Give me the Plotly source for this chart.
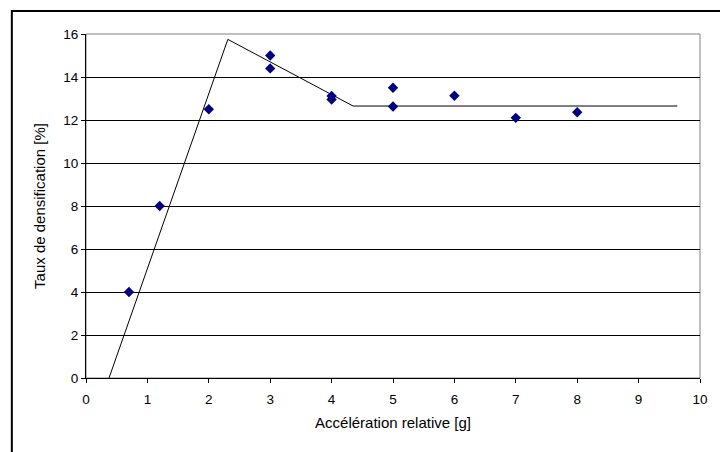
import plotly.graph_objects as go

# Measured points
acc_x = [0.7, 1.2, 2.0, 3.0, 3.0, 4.0, 4.0, 5.0, 5.0, 6.0, 7.0, 8.0]
taux_y = [4.0, 8.0, 12.5, 15.0, 14.4, 13.12, 12.95, 13.5, 12.63, 13.13, 12.1, 12.36]

# Fitted model line
model_x = [0.375, 2.31, 4.35, 9.63]
model_y = [0.0, 15.75, 12.65, 12.65]

x_ticks = list(range(0, 11))
y_ticks = list(range(0, 17, 2))

fig = go.Figure()
fig.add_trace(go.Scatter(x=model_x, y=model_y, mode="lines",
                         line=dict(color="black", width=1), hoverinfo="skip"))
fig.add_trace(go.Scatter(x=acc_x, y=taux_y, mode="markers",
                         marker=dict(symbol="diamond", size=8, color="#000080")))

font = "Liberation Sans, Arial, sans-serif"
fig.update_layout(
    width=720, height=452,
    margin=dict(l=86, r=13, t=34, b=74),
    paper_bgcolor="white", plot_bgcolor="white",
    showlegend=False,
    font=dict(family=font, size=13.5, color="black"),
    xaxis=dict(range=[0, 10], tickvals=x_ticks, ticks="outside", ticklen=4,
               tickcolor="black", showline=True, linecolor="black", linewidth=1,
               showgrid=False, zeroline=False, tickfont=dict(size=13.5),
               ticklabelstandoff=5,
               title=dict(text="Accélération relative [g]", font=dict(size=15), standoff=11)),
    yaxis=dict(range=[0, 16], tickvals=y_ticks, ticks="outside", ticklen=4,
               tickcolor="black", showline=True, linecolor="black", linewidth=1,
               showgrid=True, gridcolor="black", gridwidth=1, zeroline=False,
               tickfont=dict(size=13.5),
               title=dict(text="Taux de densification [%]", font=dict(size=15), standoff=14)),
    shapes=[
        dict(type="rect", xref="paper", yref="paper", x0=0, x1=1, y0=0, y1=1,
             line=dict(color="#808080", width=1), layer="between"),
        dict(type="rect", xref="paper", yref="paper",
             x0=(11 - 86) / 621, x1=(760 - 86) / 621,
             y0=(378 - 500) / 344, y1=(378 - 11) / 344,
             line=dict(color="black", width=2), layer="below"),
    ],
)

fig.write_html("out.html", config={"displayModeBar": False},
               post_script="document.body.style.margin='0';document.body.style.overflow='hidden';")
